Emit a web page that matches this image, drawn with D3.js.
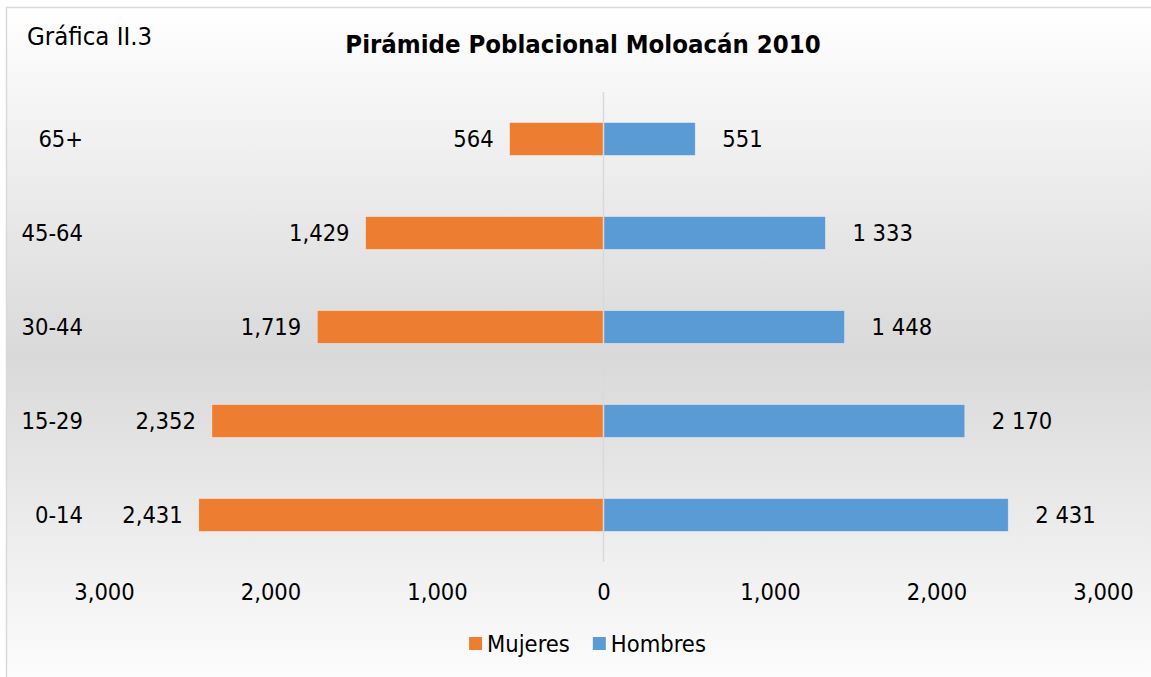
<!DOCTYPE html>
<html>
<head>
<meta charset="utf-8">
<script src="https://cdn.jsdelivr.net/npm/d3@7"></script>
<style>
  html, body { margin: 0; padding: 0; background: #fff; }
  svg { display: block; }
  text { font-family: "DejaVu Sans Condensed", "DejaVu Sans", sans-serif; fill: #000; }
</style>
</head>
<body>
<svg id="chart" width="1151" height="677"></svg>
<script>
// data
const categories = ["65+", "45-64", "30-44", "15-29", "0-14"]
const mujeres = [564, 1429, 1719, 2352, 2431]
const hombres = [551, 1333, 1448, 2170, 2431]
const tick_values = [-3000, -2000, -1000, 0, 1000, 2000, 3000]
const series_names = ["Mujeres", "Hombres"]
const series_colors = ["#ED7D31", "#5B9BD5"]

const W = 1151, H = 677
const label_size = "23.5px"
const svg = d3.select("#chart")

// fondo con degradado
const defs = svg.append("defs")
const grad = defs.append("linearGradient").attr("id", "bg").attr("x1", 0).attr("y1", 0).attr("x2", 0).attr("y2", 1)
grad.append("stop").attr("offset", "0%").attr("stop-color", "#ffffff")
grad.append("stop").attr("offset", "50%").attr("stop-color", "#d9d9d9")
grad.append("stop").attr("offset", "100%").attr("stop-color", "#ffffff")

svg.append("rect")
    .attr("x", 6.5).attr("y", 7.5)
    .attr("width", W + 20).attr("height", H + 20)
    .attr("fill", "url(#bg)")
    .attr("stroke", "#d9d9d9").attr("stroke-width", 1.5)

// escalas
const x = d3.scaleLinear().domain([-3000, 3000]).range([104, 1103])
const y = d3.scaleBand().domain(categories).range([92, 562]).paddingInner(0.65).paddingOuter(0.325)

const fmt_comma = d3.format(",")
const fmt_space = d3.formatLocale({ decimal: ".", thousands: " ", grouping: [3], currency: ["", ""] }).format(",")

// titulos
svg.append("text").text("Gráfica II.3")
    .attr("x", 27).attr("y", 45)
    .attr("font-size", "25.5px")

svg.append("text").text("Pirámide Poblacional Moloacán 2010")
    .attr("x", 583).attr("y", 53)
    .attr("text-anchor", "middle")
    .attr("font-size", "25.5px").attr("font-weight", "bold")

// barras
const rows = categories.map((c, i) => ({ cat: c, m: mujeres[i], h: hombres[i] }))

svg.append("g").selectAll("rect").data(rows).join("rect")
    .attr("x", d => x(-d.m)).attr("y", d => y(d.cat))
    .attr("width", d => x(0) - x(-d.m)).attr("height", y.bandwidth())
    .attr("fill", series_colors[0])
    .attr("stroke", "#fff").attr("stroke-opacity", 0.5).attr("stroke-width", 0.75)

svg.append("g").selectAll("rect").data(rows).join("rect")
    .attr("x", x(0)).attr("y", d => y(d.cat))
    .attr("width", d => x(d.h) - x(0)).attr("height", y.bandwidth())
    .attr("fill", series_colors[1])
    .attr("stroke", "#fff").attr("stroke-opacity", 0.5).attr("stroke-width", 0.75)

// eje central
svg.append("line")
    .attr("x1", x(0)).attr("x2", x(0))
    .attr("y1", y.range()[0]).attr("y2", y.range()[1])
    .attr("stroke", "#d9d9d9").attr("stroke-width", 1.5)

// etiquetas de datos
svg.append("g").selectAll("text").data(rows).join("text")
    .text(d => fmt_comma(d.m))
    .attr("x", d => x(-d.m) - 16).attr("y", d => y(d.cat) + y.bandwidth() / 2)
    .attr("dy", "0.35em").attr("text-anchor", "end")
    .attr("font-size", label_size)

svg.append("g").selectAll("text").data(rows).join("text")
    .text(d => fmt_space(d.h))
    .attr("x", d => x(d.h) + 27).attr("y", d => y(d.cat) + y.bandwidth() / 2)
    .attr("dy", "0.35em").attr("text-anchor", "start")
    .attr("font-size", label_size)

// categorias
svg.append("g").selectAll("text").data(categories).join("text")
    .text(d => d)
    .attr("x", 83).attr("y", d => y(d) + y.bandwidth() / 2)
    .attr("dy", "0.35em").attr("text-anchor", "end")
    .attr("font-size", label_size)

// eje x
const x_axis = svg.append("g")
    .attr("transform", "translate(0, 583)")
    .call(d3.axisBottom(x).tickValues(tick_values).tickSize(0).tickPadding(0)
        .tickFormat(d => fmt_comma(Math.abs(d))))
x_axis.select(".domain").remove()
x_axis.selectAll("text")
    .attr("font-size", label_size)
    .attr("dy", "0.71em")
    .style("font-family", "\"DejaVu Sans Condensed\", \"DejaVu Sans\", sans-serif")
    .attr("fill", "#000")

// leyenda
const legend = svg.append("g")
let lx = 0
series_names.forEach((name, i) => {
    const item = legend.append("g").attr("transform", `translate(${lx}, 0)`)
    item.append("rect").attr("x", 0).attr("y", -6.5).attr("width", 13).attr("height", 13)
        .attr("fill", series_colors[i])
    const t = item.append("text").text(name)
        .attr("x", 18).attr("y", 0).attr("dy", "0.35em")
        .attr("font-size", label_size)
    lx += 18 + t.node().getComputedTextLength() + 23
})
const legend_w = lx - 23
legend.attr("transform", `translate(${587.5 - legend_w / 2}, 643.5)`)
</script>
</body>
</html>
